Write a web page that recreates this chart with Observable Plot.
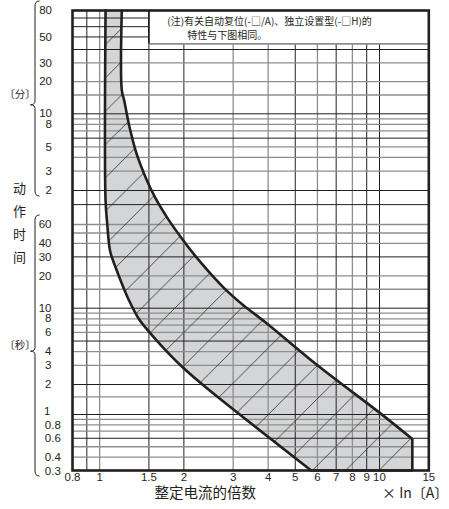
<!DOCTYPE html>
<html><head><meta charset="utf-8">
<script src="https://cdn.jsdelivr.net/npm/d3@7"></script>
<script src="https://cdn.jsdelivr.net/npm/@observablehq/plot@0.6"></script>
<style>body{margin:0;background:#fff} svg{display:block}</style>
</head><body><div id="chart"></div>
<script>
// ---- data ----
const xTicks = [0.8, 1, 1.5, 2, 3, 4, 5, 6, 7, 8, 9, 10, 15];
const xGridBlack = [0.9, 1.5, 2, 5, 7, 9, 10];
const xGridGray = [1, 3, 4, 6, 8];
const minuteLabels = [80, 50, 30, 20, 10, 8, 5, 3, 2];            // minutes
const secondLabels = [60, 40, 30, 20, 10, 8, 6, 4, 3, 2, 1, 0.8, 0.6, 0.4, 0.3]; // seconds
const yGridBlack = [0.6, 1, 2, 5, 10, 30, 90, 120, 360, 600, 2400, 3000, 3600, 4200]; // seconds
const yGridGray = [0.4, 0.5, 0.7, 0.8, 0.9, 1.5, 3, 4, 6, 7, 8, 9, 15, 20, 40, 50, 60, 180, 240, 300, 420, 480, 540, 900, 1200, 1800];
// upper (right) boundary of the band, top to bottom: multiple of In, time in s
const upperX = [1.2, 1.2, 1.224, 1.28, 1.355, 1.46, 1.585, 1.75, 1.96, 2.2, 2.49, 2.82, 3.27, 3.92, 6.0, 10.1, 13.1, 13.1, 13.1, 13.1];
const upperT = [4800, 1000, 800, 450, 260, 158, 102, 68, 45, 30.5, 21, 14.9, 10.6, 7.4, 3.0, 1.02, 0.59, 0.59, 0.3, 0.3];
// lower (left) boundary of the band, top to bottom
const lowerX = [1.05, 1.05, 1.065, 1.09, 1.14, 1.2, 1.274, 1.378, 1.508, 1.68, 1.92, 2.33, 5.7, 5.7];
const lowerT = [4800, 98, 60, 34, 24, 17, 11.8, 8.05, 6.0, 4.4, 3.1, 2.0, 0.3, 0.3];
const noteText = "(注)有关自动复位(-□/A)、独立设置型(-□H)的\n\u3000\u3000特性与下图相同。";
const noteBoxX = [1.5, 15];
const noteBoxT = [2650, 4800];
const unitLabels = ["〔分〕", "〔秒〕"];
const unitLabelT = [900, 4.5];
const braceTop = [4800, 60];
const braceBottom = [120, 0.3];
const braceTip = [720, 4];
const yTitle = "动\n作\n时\n间";
const xTitle = "整定电流的倍数";
const xUnit = "× In〔A〕";

// ---- build ----
const band = [
  ...upperX.map((x, i) => ({x, t: upperT[i]})),
  ...lowerX.map((x, i) => ({x, t: lowerT[i]})).reverse()
];
const braces = braceTop.map((top, i) => ({top, bottom: braceBottom[i], tip: braceTip[i]}));
const units = unitLabels.map((label, i) => ({label, t: unitLabelT[i]}));
const ink = "#231f20";
const gray = "#8e8e8e";
const latin = "'Liberation Sans', Arial, 'Noto Sans CJK SC', sans-serif";
const cjk = "'Noto Sans CJK SC', 'Liberation Sans', sans-serif";

const hatchDefs = () => {
  const s = 33.3;
  const g = d3.create("svg:g");
  const p = g.append("defs").append("pattern")
    .attr("id", "hatch").attr("patternUnits", "userSpaceOnUse")
    .attr("x", 15.8).attr("y", 0).attr("width", s).attr("height", s);
  p.append("path")
    .attr("d", `M-2,${s + 2}L${s + 2},-2M-2,2L2,-2M${s - 2},${s + 2}L${s + 2},${s - 2}`)
    .attr("stroke", "#2a2a2a").attr("stroke-width", 0.8).attr("fill", "none");
  return g.node();
};

const braceMark = (index, scales) => {
  const g = d3.create("svg:g").attr("fill", "none").attr("stroke", ink).attr("stroke-width", 1);
  const xs = 35, xe = 39.5, xt = 30.5;
  for (const b of braces) {
    const y0 = scales.y(b.top) - 9, y1 = scales.y(b.bottom) + 6, ym = scales.y(b.tip);
    g.append("path").attr("d",
      `M${xe},${y0}Q${xs},${y0} ${xs},${y0 + 5}L${xs},${ym - 4}Q${xs},${ym} ${xt},${ym}` +
      `Q${xs},${ym} ${xs},${ym + 4}L${xs},${y1 - 5}Q${xs},${y1} ${xe},${y1}`);
  }
  return g.node();
};

const bandOpts = {x: "x", y: "t", curve: "catmull-rom"};
const secInts = secondLabels.filter(d => d > 1);
const secOne = secondLabels.filter(d => d === 1);
const secDec = secondLabels.filter(d => d < 1);

const plot = Plot.plot({
  width: 449, height: 509,
  marginLeft: 72, marginRight: 20.7, marginTop: 10, marginBottom: 39,
  x: {type: "log", domain: [0.8, 15], range: [72, 428.3], axis: null},
  y: {type: "log", domain: [0.3, 1, 2, 10, 60, 120, 600, 2400, 4800],
      range: [470, 414, 384, 307.7, 224, 190, 113.3, 49, 10], axis: null},
  style: {fontFamily: latin, background: "white", color: ink},
  marks: [
    Plot.line(band, {...bandOpts, fill: "#d4d5d7", stroke: "none"}),
    Plot.ruleX(xGridGray, {stroke: gray, strokeWidth: 1.3}),
    Plot.ruleX(xGridBlack, {stroke: ink, strokeWidth: 1}),
    Plot.ruleY(yGridGray, {stroke: gray, strokeWidth: 1.3}),
    Plot.ruleY(yGridBlack, {stroke: ink, strokeWidth: 1}),
    hatchDefs,
    Plot.line(band, {...bandOpts, fill: "url(#hatch)", stroke: "none"}),
    Plot.line(band, {...bandOpts, fill: "none", stroke: ink, strokeWidth: 2.6, strokeLinejoin: "miter"}),
    Plot.rect([{}], {x1: noteBoxX[0], x2: noteBoxX[1], y1: noteBoxT[0], y2: noteBoxT[1], fill: "white"}),
    Plot.ruleY([noteBoxT[0]], {x1: noteBoxX[0], x2: noteBoxX[1], stroke: gray, strokeWidth: 1.6}),
    Plot.ruleX([noteBoxX[0]], {y1: noteBoxT[0], y2: noteBoxT[1], stroke: ink, strokeWidth: 1.8}),
    Plot.text([noteText], {x: noteBoxX[0], frameAnchor: "top", dx: 18.4, dy: 17, lineAnchor: "middle", lineHeight: 1.45, textAnchor: "start", fontSize: 10, fontFamily: cjk, fill: ink}),
    Plot.frame({stroke: ink, strokeWidth: 2.6}),
    // x tick labels
    Plot.text(xTicks, {x: d => d, text: d => String(d), frameAnchor: "bottom", dy: 10, textAnchor: "middle", fontSize: 11.5, fill: ink}),
    // y tick labels
    Plot.text(minuteLabels, {y: d => d * 60, text: d => String(d), frameAnchor: "left", dx: -20.5, textAnchor: "end", fontSize: 11.5, fill: ink}),
    Plot.text(secInts, {y: d => d, text: d => String(d), frameAnchor: "left", dx: -21, textAnchor: "end", fontSize: 11.5, fill: ink}),
    Plot.text(secOne, {y: d => d, text: d => String(d), frameAnchor: "left", dx: -22, dy: -3, textAnchor: "end", fontSize: 11.5, fill: ink}),
    Plot.text(secDec, {y: d => d, text: d => String(d), frameAnchor: "left", dx: -27.7, dy: 0.5, textAnchor: "start", fontSize: 11.5, fill: ink}),
    braceMark,
    Plot.text(units, {y: "t", text: "label", frameAnchor: "left", dx: -52.5, textAnchor: "middle", fontSize: 10.5, fontFamily: cjk, fill: ink}),
    Plot.text([yTitle], {frameAnchor: "left", dx: -53, dy: -20, textAnchor: "middle", fontSize: 13, lineHeight: 1.77, fontFamily: cjk, fill: ink}),
    Plot.text([xTitle], {frameAnchor: "bottom-left", dx: 132.7, dy: 27.5, textAnchor: "middle", fontSize: 14.5, fontFamily: cjk, fill: ink}),
    Plot.text([xUnit], {frameAnchor: "bottom-right", dx: 19.5, dy: 27.5, textAnchor: "end", fontSize: 14, fontFamily: cjk, fill: ink})
  ]
});
document.getElementById("chart").appendChild(plot);
</script>
</body></html>
